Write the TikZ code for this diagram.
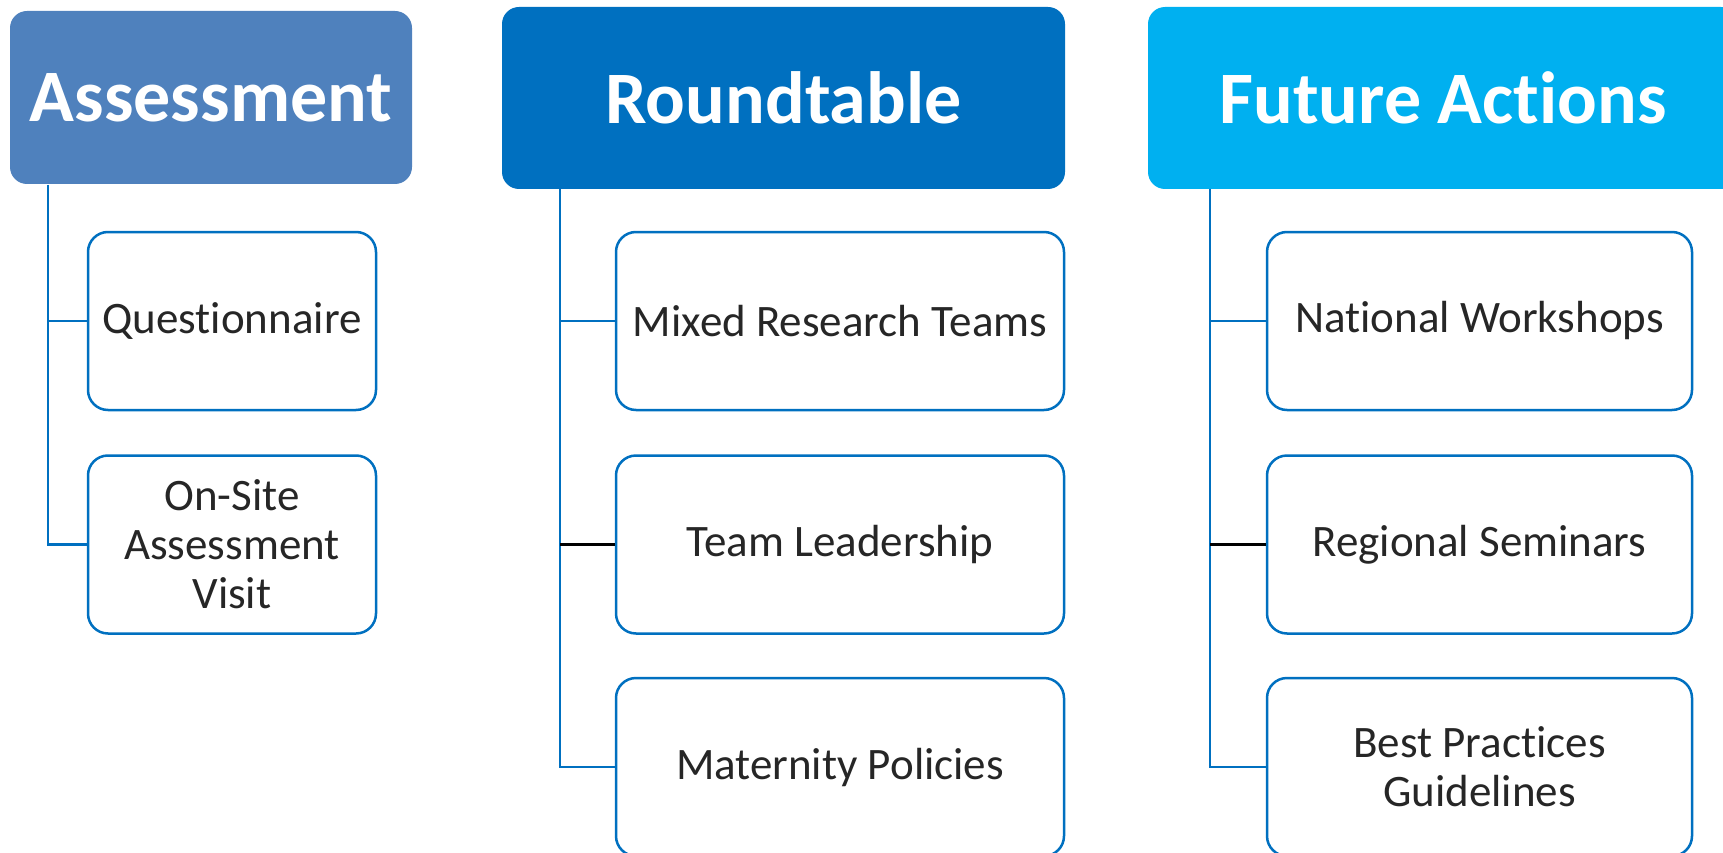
\documentclass[tikz,border=0pt]{standalone}
\usepackage{fontspec}
\setmainfont{Carlito}[RawFeature={-liga;-clig;-calt;-dlig}]
\definecolor{hA}{HTML}{4F81BD}
\definecolor{hR}{HTML}{0070C0}
\definecolor{hF}{HTML}{00B0F0}
\definecolor{bd}{HTML}{0070C0}
\definecolor{tx}{HTML}{262626}
\begin{document}
\begin{tikzpicture}[x=1pt,y=-1pt,
 head/.style={rounded corners=17pt, inner sep=0pt, text=white, font=\fontsize{74}{89}\selectfont\bfseries},
 item/.style={draw=bd, line width=2.5pt, rounded corners=20pt, fill=white, text=tx, font=\fontsize{45}{49}\selectfont, align=center, minimum height=178pt, inner sep=0pt},
 conn/.style={draw=bd, line width=2.2pt},
 connk/.style={draw=black, line width=2.2pt}]
\useasboundingbox (0,0) rectangle (1723,853);
\clip (0,0) rectangle (1723,853);
% headers
\node[head, fill=hA, minimum width=402pt, minimum height=173pt] (hA) at (211,97.5) {Assessment};
\node[head, fill=hR, minimum width=563pt, minimum height=182pt] (hR) at (783.5,98) {Roundtable};
\node[head, fill=hF, minimum width=590pt, minimum height=182pt] (hF) at (1443,98) {Future Act\kern0pt ions};
% Assessment children
\node[item, minimum width=288pt] (q) at (232,321) {Questionnaire};
\node[item, minimum width=288pt] (ov) at (232,544.5) {On-Site\\Assessment\\Visit};
% Roundtable children
\node[item, minimum width=448pt] (mr) at (840,321) {Mixed Research Teams};
\node[item, minimum width=448pt] (tl) at (840,544.5) {Team Leadership};
\node[item, minimum width=448pt] (mp) at (840,767) {Maternity Policies};
% Future children
\node[item, minimum width=425pt] (nw) at (1479.5,321) {National Workshops};
\node[item, minimum width=425pt] (rs) at (1479.5,544.5) {Regional Seminars};
\node[item, minimum width=425pt] (bp) at (1479.5,767) {Best Pract\kern0pt ices\\Guidelines};
% spines
\coordinate (sA) at (48,185);
\coordinate (sR) at (560,189);
\coordinate (sF) at (1210,189);
\draw[conn] (sA) |- (q.west);
\draw[conn] (sA) |- (ov.west);
\draw[conn] (sR) |- (mr.west);
\draw[conn] (sR) |- (mp.west);
\draw[connk] (sR |- tl.west) -- (tl.west);
\draw[conn] (sF) |- (nw.west);
\draw[conn] (sF) |- (bp.west);
\draw[connk] (sF |- rs.west) -- (rs.west);
\end{tikzpicture}
\end{document}
